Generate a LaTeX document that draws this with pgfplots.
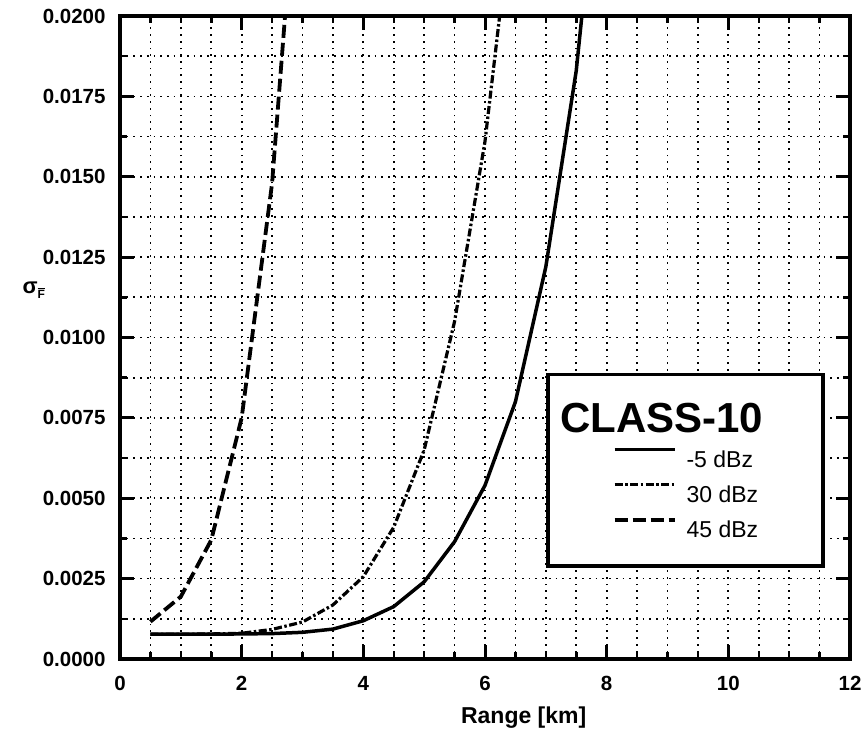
\documentclass[border=0pt]{standalone}
\usepackage{pgfplots}
\pgfplotsset{compat=1.18}
\usepackage{fontspec}
\setmainfont{Liberation Sans}
\begin{document}
\begin{tikzpicture}
\path[use as bounding box] (0,0) rectangle (868pt,738pt);
\begin{axis}[
  at={(120pt,79pt)}, anchor=south west,
  scale only axis, width=730pt, height=643pt,
  xmin=0, xmax=12, ymin=0, ymax=0.02,
  xtick={0,2,4,6,8,10,12},
  ytick={0,0.0025,0.005,0.0075,0.01,0.0125,0.015,0.0175,0.02},
  minor x tick num=3, minor y tick num=1,
  scaled y ticks=false,
  /pgf/number format/assume math mode=true,
  yticklabel style={/pgf/number format/fixed, /pgf/number format/fixed zerofill, /pgf/number format/precision=4, xshift=-11pt},
  xticklabel style={yshift=-14pt},
  ticklabel style={font=\fontsize{20.5}{20.5}\bfseries\selectfont},
  tick align=inside,
  major tick length=14pt, minor tick length=7pt,
  major tick style={line width=3pt, black},
  minor tick style={line width=2.5pt, black},
  axis line style={line width=4.5pt},
  grid=both,
  major grid style={black, line width=1.7pt, dash pattern=on 1.7pt off 5pt},
  minor grid style={black, line width=1.7pt, dash pattern=on 1.7pt off 5pt},
  xlabel={Range [km]},
  xlabel style={font=\fontsize{23}{23}\bfseries\selectfont, at={(axis description cs:0.553,-0.0918)}, anchor=center},
  ylabel={σ\raisebox{-5pt}{\fontsize{12}{12}\selectfont$\overline{\mbox{\bfseries F}}$}},
  ylabel style={font=\fontsize{22}{22}\bfseries\selectfont, rotate=-90, at={(axis description cs:-0.118,0.574)}, anchor=center},
  legend style={at={(axis description cs:0.5836,0.4448)}, anchor=north west, draw=black, fill=white, line width=3.5pt,
    inner xsep=65pt, inner ysep=28pt, row sep=15pt, column sep=10pt,
    font=\fontsize{23}{23}\selectfont,
    nodes={inner sep=0pt, text depth=0pt}},
  legend cell align=left,
  legend image code/.code={\draw[#1] (0pt,10pt) -- (60pt,10pt);},
]
\addlegendimage{draw opacity=0}
\addlegendentry{\rule{0pt}{30pt}}
\addplot[black, line width=3.5pt] coordinates {
(0.5,0.00077) (1.0,0.00077) (1.5,0.00077) (2.0,0.00078) (2.5,0.00079)
(3.0,0.00083) (3.5,0.00093) (4.0,0.00119) (4.5,0.00163) (5.0,0.00240)
(5.5,0.00365) (6.0,0.00540) (6.5,0.00800) (7.0,0.01220) (7.5,0.01830) (8.0,0.0275)
};
\addlegendentry{-5 dBz}
\addplot[black, line width=3.2pt, dash pattern=on 8pt off 2.5pt on 2.5pt off 2.5pt] coordinates {
(0.5,0.00077) (1.0,0.00077) (1.5,0.00078) (2.0,0.00080) (2.5,0.00092)
(3.0,0.00115) (3.5,0.00168) (4.0,0.00256) (4.5,0.00410) (5.0,0.00650)
(5.5,0.01050) (6.0,0.01610) (6.5,0.02420)
};
\addlegendentry{30 dBz}
\addplot[black, line width=3.8pt, dash pattern=on 13pt off 5pt] coordinates {
(0.5,0.00116) (1.0,0.00194) (1.5,0.00370) (2.0,0.00750) (2.5,0.01480) (3.0,0.02700)
};
\addlegendentry{45 dBz}
\coordinate (ttl) at (axis description cs:0.6027,0.353);
\end{axis}
\node[anchor=base west, inner sep=0pt, font=\fontsize{42}{42}\bfseries\selectfont] at (ttl) {CLASS-10};
\end{tikzpicture}
\end{document}
